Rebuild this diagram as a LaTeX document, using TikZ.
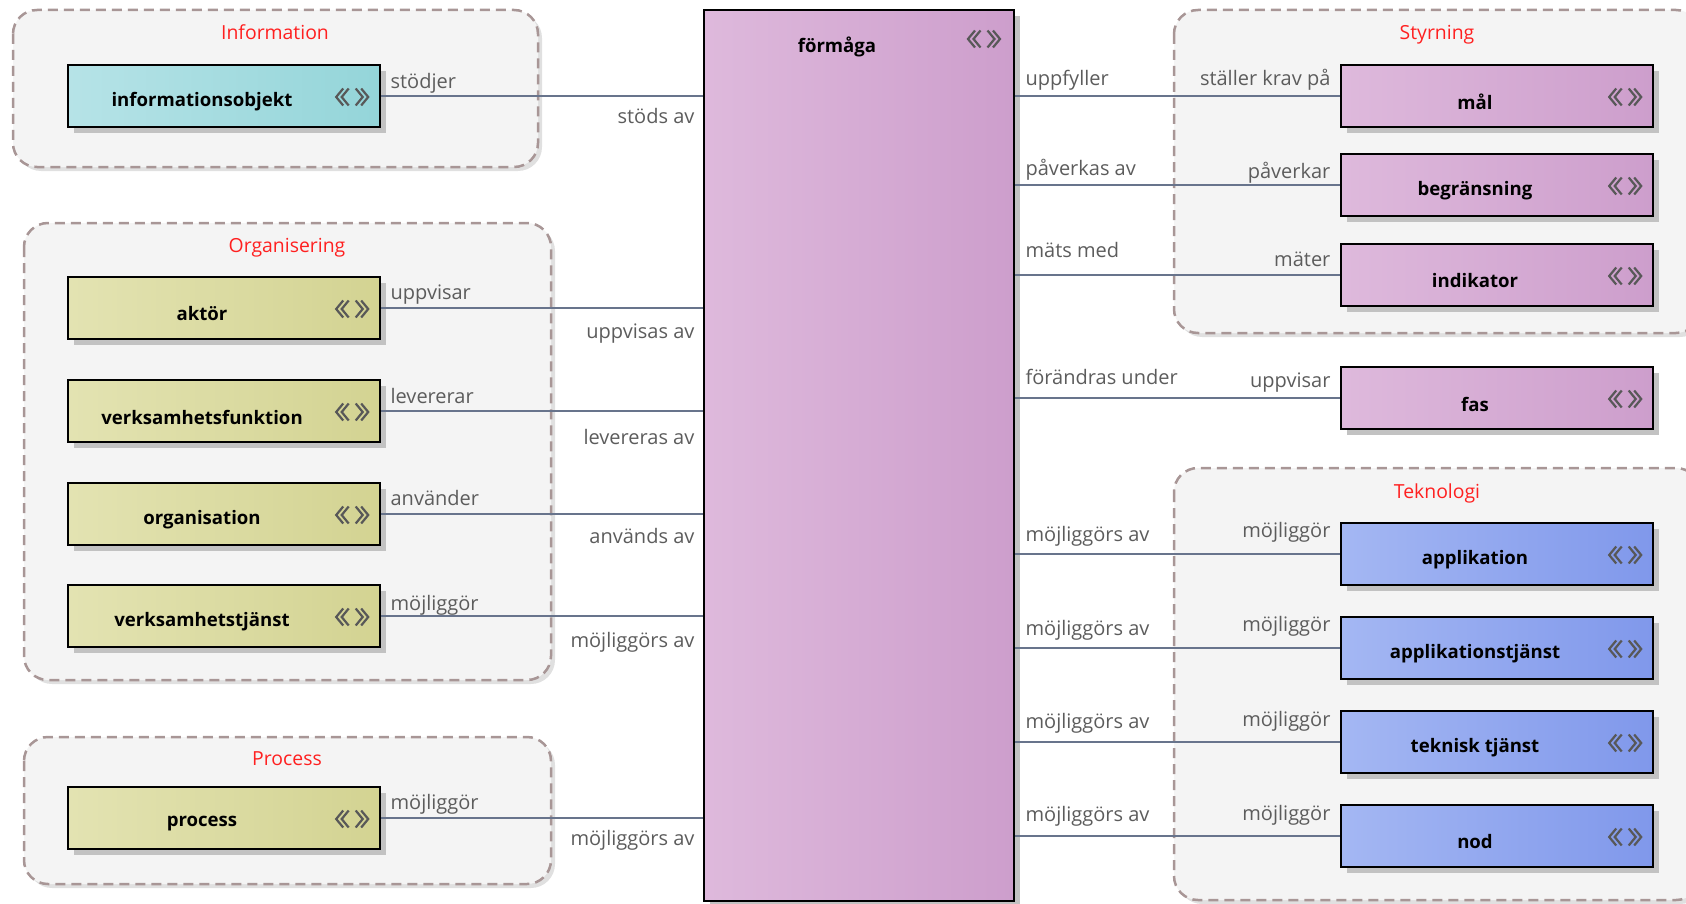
\documentclass[tikz,border=0pt]{standalone}
\usepackage{fontspec}
\setmainfont{Open Sans}
\usetikzlibrary{calc,shadows}

\definecolor{grpfill}{RGB}{244,244,244}
\definecolor{grpborder}{RGB}{168,150,150}
\definecolor{titlered}{RGB}{255,32,32}
\definecolor{lblgray}{RGB}{92,92,92}
\definecolor{connline}{RGB}{104,116,140}
\definecolor{chevgray}{RGB}{88,88,88}
\definecolor{infoL}{RGB}{182,227,231}
\definecolor{infoR}{RGB}{148,213,217}
\definecolor{oliveL}{RGB}{227,227,178}
\definecolor{oliveR}{RGB}{211,211,146}
\definecolor{purpL}{RGB}{222,185,220}
\definecolor{purpR}{RGB}{205,158,204}
\definecolor{blueL}{RGB}{164,183,243}
\definecolor{blueR}{RGB}{128,152,235}

\tikzset{
  grp/.style={draw=grpborder, line width=1.25pt, dash pattern=on 5pt off 3pt,
    fill=grpfill, rounded corners=12pt},
  grpshade/.style={fill=black!12, draw=none, rounded corners=12pt},
  grptitle/.style={text=titlered, font=\fontsize{9.7}{11}\selectfont, inner sep=0pt},
  elem/.style={draw=black, line width=1.2pt, minimum width=156pt, minimum height=31pt,
    inner sep=0pt, drop shadow={shadow xshift=3pt, shadow yshift=-3pt, fill=black!24, opacity=1}},
  infofill/.style={left color=infoL, right color=infoR},
  olivefill/.style={left color=oliveL, right color=oliveR},
  purpfill/.style={left color=purpL, right color=purpR},
  bluefill/.style={left color=blueL, right color=blueR},
  etext/.style={font=\fontsize{9.3}{11}\selectfont\bfseries, inner sep=0pt},
  lbl/.style={text=lblgray, font=\fontsize{10}{12}\selectfont, inner sep=0pt},
  conn/.style={draw=connline, line width=1pt},
  chevrons/.pic={
    \draw[chevgray, line width=1.1pt]
      (-9,-8.5) -- (-16,0) -- (-9,8.5)
      (-3.5,-8.5) -- (-10.5,0) -- (-3.5,8.5)
      (3.5,-8.5) -- (10.5,0) -- (3.5,8.5)
      (9,-8.5) -- (16,0) -- (9,8.5);
  }
}

% element box: name, x, y, fill style, caption
\newcommand\elembox[5]{%
  \node[elem,#4] (#1) at (#2,#3) {};
  \node[etext] at ($(#1.center)+(-22,6)$) {#5};
  \pic at ($(#1.east)+(-29,1)$) {chevrons};
}
% link from a left-hand element to the capability
\newcommand\leftlink[5]{%
  \draw[conn] (#1.east) -- (#1.east -| cap.west);
  \node[lbl,anchor=mid west] at ($(#1.east)+(9,#3+3)$) {#2};
  \node[lbl,anchor=mid east] at ($(#1.east -| cap.west)+(-8,#5+3)$) {#4};
}
% link from the capability to a right-hand element
\newcommand\rightlink[5]{%
  \draw[conn] (#1.west -| cap.east) -- (#1.west);
  \node[lbl,anchor=mid west] at ($(#1.west -| cap.east)+(10,#3+3)$) {#2};
  \node[lbl,anchor=mid east] at ($(#1.west)+(-9,#5+3)$) {#4};
}

\begin{document}
\begin{tikzpicture}[x=0.5pt,y=-0.5pt]
\useasboundingbox (0,0) rectangle (1686,904);
\clip (0,0) rectangle (1686,904);

% groups
\fill[grpshade] (17,14) rectangle (542,171);
\draw[grp] (13,10) rectangle (538,167);
\node[grptitle] (tInfo) at (275,32) {Information};

\fill[grpshade] (28,227) rectangle (555,684);
\draw[grp] (24,223) rectangle (551,680);
\node[grptitle] (tOrg) at (287,248) {Organisering};

\fill[grpshade] (28,741) rectangle (555,888);
\draw[grp] (24,737) rectangle (551,884);
\node[grptitle] (tProc) at (287,759) {Process};

\fill[grpshade] (1178,14) rectangle (1704,337);
\draw[grp] (1174,10) rectangle (1700,333);
\node[grptitle] (tStyr) at (1437,35) {Styrning};

\fill[grpshade] (1178,472) rectangle (1704,904);
\draw[grp] (1174,468) rectangle (1700,900);
\node[grptitle] (tTek) at (1437,493) {Teknologi};

% capability
\node[elem,purpfill,minimum width=155pt,minimum height=445.5pt] (cap) at (859,455.5) {};
\node[etext] at (837,47) {förmåga};
\pic at (984,39) {chevrons};

% left-hand elements
\elembox{info}{224}{96}{infofill}{informationsobjekt}
\elembox{aktor}{224}{308}{olivefill}{aktör}
\elembox{vfunk}{224}{411}{olivefill}{verksamhetsfunktion}
\elembox{orgn}{224}{514}{olivefill}{organisation}
\elembox{vtj}{224}{616}{olivefill}{verksamhetstjänst}
\elembox{proc}{224}{818}{olivefill}{process}

% right-hand elements
\elembox{mal}{1497}{96}{purpfill}{mål}
\elembox{begr}{1497}{185}{purpfill}{begränsning}
\elembox{ind}{1497}{275}{purpfill}{indikator}
\elembox{fas}{1497}{398}{purpfill}{fas}
\elembox{app}{1497}{554}{bluefill}{applikation}
\elembox{apptj}{1497}{648}{bluefill}{applikationstjänst}
\elembox{tektj}{1497}{742}{bluefill}{teknisk tjänst}
\elembox{nod}{1497}{836}{bluefill}{nod}

% relations
\leftlink{info}{stödjer}{-16}{stöds av}{19}
\leftlink{aktor}{uppvisar}{-17}{uppvisas av}{22}
\leftlink{vfunk}{levererar}{-16}{levereras av}{25}
\leftlink{orgn}{använder}{-17}{används av}{21}
\leftlink{vtj}{möjliggör}{-14}{möjliggörs av}{23}
\leftlink{proc}{möjliggör}{-17}{möjliggörs av}{19}

\rightlink{mal}{uppfyller}{-19}{ställer krav på}{-19}
\rightlink{begr}{påverkas av}{-18}{påverkar}{-15}
\rightlink{ind}{mäts med}{-26}{mäter}{-17}
\rightlink{fas}{förändras under}{-22}{uppvisar}{-19}
\rightlink{app}{möjliggörs av}{-21}{möjliggör}{-25}
\rightlink{apptj}{möjliggörs av}{-21}{möjliggör}{-25}
\rightlink{tektj}{möjliggörs av}{-22}{möjliggör}{-24}
\rightlink{nod}{möjliggörs av}{-23}{möjliggör}{-24}
\end{tikzpicture}
\end{document}
